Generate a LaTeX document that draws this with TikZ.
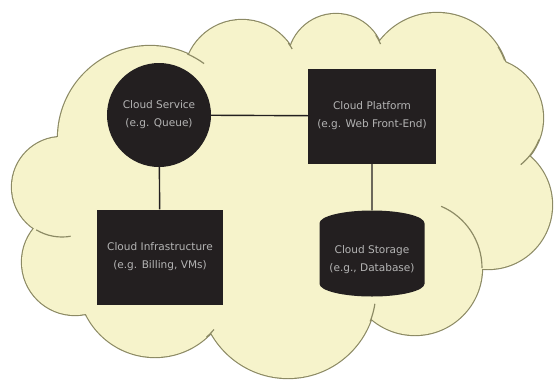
\documentclass[tikz,border=0pt]{standalone}
\usepackage{fontspec}
\setsansfont{DejaVu Sans}
\usetikzlibrary{shapes.geometric}

\definecolor{cloudyellow}{HTML}{F6F3CB}
\definecolor{cloudedge}{HTML}{8C8A64}
\definecolor{boxdark}{HTML}{231F20}
\definecolor{labelgrey}{HTML}{B4B4B4}

\tikzset{
  cloudline/.style={draw=cloudedge, line width=1pt},
  part/.style={fill=boxdark, text=labelgrey, align=center, inner sep=0pt,
    font=\sffamily\fontsize{9}{15.5}\selectfont},
  link/.style={draw=boxdark, line width=1.2pt}
}

\begin{document}
\begin{tikzpicture}[x=0.03cm, y=-0.03cm]
    \useasboundingbox (0,0) rectangle (556,381);

    % Cloud: puffs stroked first, then filled over
    \foreach \cx/\cy/\r in {150/138/92, 242/78/58, 336/62/48, 437/85/72, 483/118/60,
                            488/205/64, 415/268/67, 288/290/88, 155/280/77, 75/262/53, 62/187/50}
        \draw[cloudedge, line width=2pt] (\cx,\cy) circle (\r);
    \fill[cloudyellow] (150,138) -- (242,78) -- (336,62) -- (437,85) -- (483,118) -- (488,205)
        -- (415,268) -- (288,290) -- (155,280) -- (75,262) -- (62,187) -- cycle;
    \foreach \cx/\cy/\r in {150/138/92, 242/78/58, 336/62/48, 437/85/72, 483/118/60,
                            488/205/64, 415/268/67, 288/290/88, 155/280/77, 75/262/53, 62/187/50}
        \fill[cloudyellow] (\cx,\cy) circle (\r);

    % puff ends running into the cloud
    \foreach \cx/\cy/\r/\a/\b in {62/187/50/121/80, 150/138/92/-66/-54, 242/78/58/-37/-30,
                                  336/62/48/-34/-22, 437/85/72/-32/-20, 483/118/60/21/51,
                                  415/268/67/0/-67, 288/290/88/21/9, 155/280/77/48/40}
        \draw[cloudline] ([shift={(\a:\r)}]\cx,\cy) arc[start angle=\a, end angle=\b, radius=\r];

    % Service (top left)
    \node[part, circle, minimum size=3.12cm] (svc) at (159,115) {Cloud Service\\(e.g. Queue)};

    % Platform (top right)
    \node[part, rectangle, minimum width=3.84cm, minimum height=2.85cm] (plat) at (372,116)
        {Cloud Platform\\(e.g. Web Front-End)};

    % Infrastructure (bottom left)
    \node[part, rectangle, minimum width=3.78cm, minimum height=2.85cm] (infra) at (160,257)
        {Cloud Infrastructure\\(e.g. Billing, VMs)};

    % Storage (bottom right)
    \node[part, cylinder, shape border rotate=90, aspect=0.3,
          minimum width=3.15cm, minimum height=2.58cm] (store) at (372,260)
        {Cloud Storage\\(e.g., Database)};

    % links
    \draw[link] (svc) -- (plat);
    \draw[link] (svc) -- (infra);
    \draw[link] (plat) -- (store);
\end{tikzpicture}
\end{document}
